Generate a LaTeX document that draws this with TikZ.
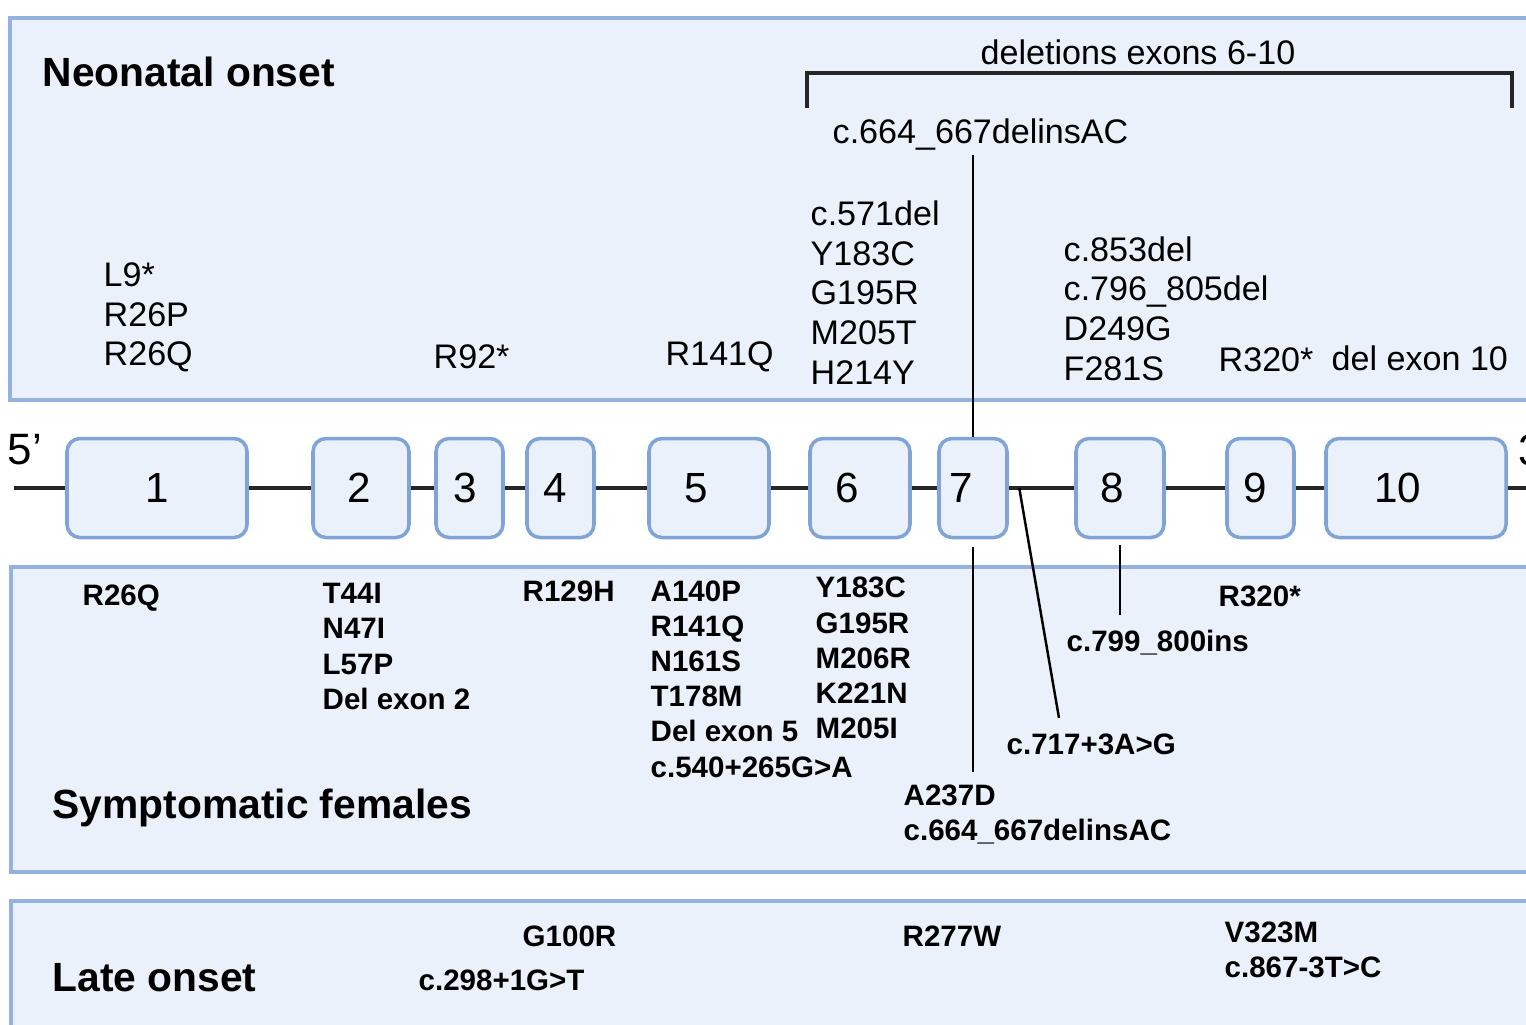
\documentclass[tikz,border=0pt]{standalone}
\usepackage{fontspec}
\setmainfont{Liberation Sans}
\usetikzlibrary{calc}
\definecolor{panelfill}{RGB}{234,241,251}
\definecolor{panelline}{RGB}{148,178,224}
\definecolor{exonline}{RGB}{128,163,216}

\begin{document}
\begin{tikzpicture}[
    panel/.style={draw=panelline, fill=panelfill, line width=1.3pt},
    exon/.style={draw=exonline, fill=panelfill, line width=1pt, rounded corners=0.13cm,
                 minimum height=0.99cm, inner sep=0pt, font=\fontsize{12}{14}\selectfont},
    paneltitle/.style={anchor=west, inner sep=0pt, font=\fontsize{11.6}{13}\selectfont\bfseries},
    toplbl/.style={anchor=west, inner sep=0pt, align=left, font=\fontsize{9.7}{11.3}\selectfont},
    botlbl/.style={anchor=west, inner sep=0pt, align=left, font=\fontsize{8.4}{10}\selectfont\bfseries},
    geneline/.style={line width=1.1pt, black!85},
    conn/.style={line width=0.7pt, black},
    bracket/.style={line width=0.9pt, black!85}
]
    \useasboundingbox (0,0) rectangle (15.26,-10.24);

    % panels
    \draw[panel] (0.10,-0.18) rectangle (15.60,-4.00);
    \draw[panel] (0.11,-5.67) rectangle (15.60,-8.72);
    \draw[panel] (0.11,-9.01) rectangle (15.60,-10.60);

    % gene
    \foreach \n/\x/\w/\dx in {1/1.57/1.80/0, 2/3.61/0.96/0.04, 3/4.695/0.67/0.08, 4/5.605/0.67/0.10,
                              5/7.09/1.20/0.26, 6/8.60/1.00/0.26, 7/9.73/0.68/0.24, 8/11.20/0.88/0.16,
                              9/12.605/0.67/0.10, 10/14.16/1.80/0.36}
        \node[exon, minimum width=\w cm] (e\n) at (\x,-4.88) {\hspace*{-\dx cm}\n};
    \coordinate (five) at (0.14,-4.88);
    \coordinate (three) at (15.40,-4.88);
    \draw[geneline] (five) -- (e1);
    \foreach \a [evaluate=\a as \b using int(\a+1)] in {1,...,9}
        \draw[geneline] (e\a) -- (e\b);
    \draw[geneline] (e10) -- (three);
    \node[inner sep=0pt, font=\fontsize{12.5}{14}\selectfont] (fivelbl) at (0.25,-4.50) {5'};
    \node[inner sep=0pt, anchor=west, font=\fontsize{12.5}{14}\selectfont] (threelbl) at (15.18,-4.50) {3'};

    % neonatal onset
    \node[paneltitle] (neotitle) at (0.42,-0.72) {Neonatal onset};
    \node[toplbl, anchor=center] (neodel) at (11.38,-0.52) {deletions exons 6-10};
    \coordinate (brl) at (8.07,-1.08);
    \coordinate (brr) at (15.12,-1.08);
    \draw[bracket] (brl) -- ++(0,0.35) -| (brr);
    \node[toplbl] (neo1) at (1.03,-3.175) {L9*\\R26P\\R26Q};
    \node[toplbl] (neo3) at (4.33,-3.57) {R92*};
    \node[toplbl] (neo5) at (6.65,-3.57) {R141Q};
    \node[toplbl] (neo6) at (8.10,-2.925) {c.571del\\Y183C\\G195R\\M205T\\H214Y};
    \node[toplbl] (neo7) at (8.32,-1.35) {c.664\_667delinsAC};
    \node[toplbl] (neo8) at (10.63,-3.085) {c.853del\\c.796\_805del\\D249G\\F281S};
    \node[toplbl] (neo9) at (12.18,-3.60) {R320*};
    \node[toplbl] (neo10) at (13.31,-3.58) {del exon 10};

    % symptomatic females
    \node[paneltitle] (sftitle) at (0.52,-8.08) {Symptomatic females};
    \node[botlbl] (sf1) at (0.82,-5.98) {R26Q};
    \node[botlbl] (sf2) at (3.22,-6.465) {T44I\\N47I\\L57P\\Del exon 2};
    \node[botlbl] (sf4) at (5.22,-5.91) {R129H};
    \node[botlbl] (sf5) at (6.50,-6.79) {A140P\\R141Q\\N161S\\T178M\\Del exon 5\\c.540+265G>A};
    \node[botlbl] (sf6) at (8.15,-6.58) {Y183C\\G195R\\M206R\\K221N\\M205I};
    \node[botlbl] (sf7) at (9.03,-8.145) {A237D\\c.664\_667delinsAC};
    \node[botlbl] (sfi7) at (10.06,-7.44) {c.717+3A>G};
    \node[botlbl] (sf8) at (10.66,-6.43) {c.799\_800ins};
    \node[botlbl] (sf9) at (12.18,-5.96) {R320*};

    % late onset
    \node[paneltitle] (lotitle) at (0.52,-9.78) {Late onset};
    \node[botlbl] (lo3) at (5.22,-9.36) {G100R};
    \node[botlbl] (lo3b) at (4.18,-9.80) {c.298+1G>T};
    \node[botlbl] (lo7) at (9.02,-9.36) {R277W};
    \node[botlbl] (lo9) at (12.24,-9.495) {V323M\\c.867-3T>C};

    % connectors
    \coordinate (top7) at (9.73,-1.55);
    \draw[conn] (top7) -- (e7.north);
    \coordinate (bot7) at (9.73,-7.72);
    \draw[conn] ([yshift=-0.08cm]e7.south) -- (bot7);
    \coordinate (spl7) at ($(e7.east)!0.16!(e8.west)$);
    \coordinate (spl7end) at (10.59,-7.18);
    \draw[conn] (spl7) -- (spl7end);
    \coordinate (ins8) at (11.20,-6.15);
    \draw[conn] ([yshift=-0.06cm]e8.south) -- (ins8);
\end{tikzpicture}
\end{document}
